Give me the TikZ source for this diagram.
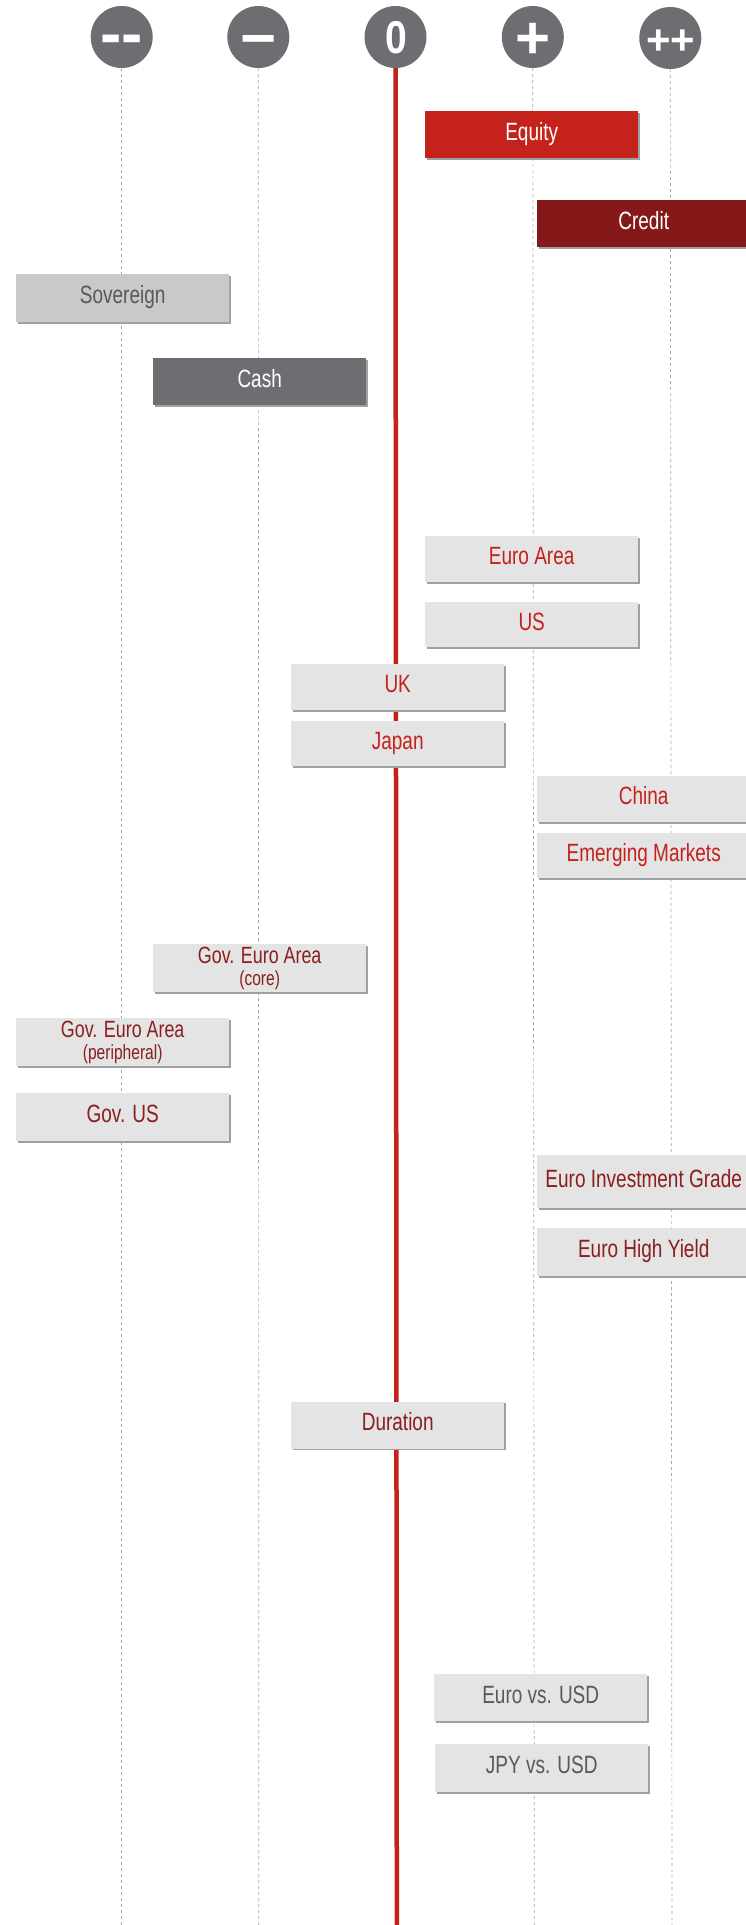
\documentclass[tikz,border=0pt]{standalone}
\usepackage{fontspec}
\setmainfont{Liberation Sans}[FakeStretch=0.76]
\newfontfamily\symfont{Liberation Sans}[Ligatures=NoCommon]
\newfontfamily\zerofont{Liberation Sans}[FakeStretch=0.85]
\usetikzlibrary{shadows,calc}
\definecolor{circ}{HTML}{6D6E71}
\definecolor{eqred}{HTML}{C4221B}
\definecolor{crred}{HTML}{85191A}
\definecolor{sovg}{HTML}{C9C9C9}
\definecolor{lbox}{HTML}{E4E4E4}
\definecolor{dgtxt}{HTML}{58595B}
\definecolor{drtxt}{HTML}{8B1E1E}
\definecolor{shad}{HTML}{A0A0A0}
\definecolor{dashcol}{HTML}{A8A8A8}
\tikzset{
  sym/.style={circle, fill=circ, minimum size=62pt, inner sep=0pt},
  symtxt/.style={text=white, anchor=base, inner sep=0pt},
  vline/.style={draw=dashcol, line width=0.7pt, dash pattern=on 3pt off 3pt},
  redline/.style={draw=eqred, line width=4.5pt},
  boxbase/.style={rectangle, anchor=north west, minimum width=213pt, minimum height=47pt, inner sep=0pt,
    drop shadow={shadow xshift=1.6pt, shadow yshift=-1.6pt, fill=shad, opacity=1}},
  box/.style={boxbase, font=\fontsize{25}{28}\selectfont, text height=18pt, text depth=7pt},
  lightred/.style={box, fill=lbox, text=eqred},
  lightdark/.style={box, fill=lbox, text=drtxt},
  lightgray/.style={box, fill=lbox, text=dgtxt},
  twoline/.style={boxbase, fill=lbox, text=drtxt, align=center, font=\fontsize{23.5}{22}\selectfont}
}
\begin{document}
\begin{tikzpicture}[x=1pt,y=-1pt]
\useasboundingbox[fill=white] (0,0) rectangle (745,1925);
% column heads
\node[sym] (c1) at (121.7,37) {};
\node[sym] (c2) at (258.3,37) {};
\node[sym] (c3) at (395.5,37) {};
\node[sym] (c4) at (532.8,37) {};
\node[sym] (c5) at (670.3,38) {};
\coordinate (b1) at (121.7,1925);
\coordinate (b2) at (258.8,1925);
\coordinate (b3) at (396.8,1925);
\coordinate (b4) at (534.3,1925);
\coordinate (b5) at (672,1925);
\draw[vline] (c1.south) -- (b1);
\draw[vline] (c2.south) -- (b2);
\draw[vline] (c4.south) -- (b4);
\draw[vline] (c5.south) -- (b5);
\draw[redline] (c3.south) -- (b3);
% symbols
\node[symtxt, font=\symfont\bfseries\fontsize{64}{64}\selectfont] (s1) at (121.7,55.5) {-{}-};
\node[symtxt, font=\symfont\bfseries\fontsize{62}{62}\selectfont] (s2) at (258.3,59) {−};
\node[symtxt, font=\zerofont\bfseries\fontsize{46}{46}\selectfont] (s3) at (396,53) {0};
\node[symtxt, font=\symfont\bfseries\fontsize{60}{60}\selectfont] (s4) at (532.8,58) {+};
\node[symtxt, font=\symfont\bfseries\fontsize{42}{42}\selectfont] (s5) at (670.8,54) {++};
% asset classes
\node[box, fill=eqred, text=white] (eq) at (425,111) {Equity};
\node[box, fill=crred, text=white] (cr) at (537,200) {Credit};
\node[box, fill=sovg, text=dgtxt, minimum height=48pt] (sov) at (16,274) {Sovereign};
\node[box, fill=circ, text=white] (cash) at (153,358) {Cash};
% equity regions
\node[lightred, minimum height=46pt] (ea) at (425,536) {Euro Area};
\node[lightred, minimum height=45pt] (us) at (425,602) {US};
\node[lightred, minimum height=46pt] (uk) at (291,664) {UK};
\node[lightred, minimum height=45pt] (jp) at (291,721) {Japan};
\node[lightred, minimum height=46pt] (cn) at (537,776) {China};
\node[lightred, minimum height=45pt] (em) at (537,833) {Emerging Markets};
% fixed income
\node[twoline, minimum height=48pt] (gcore) at (153,944) {Gov. Euro Area\\{\fontsize{20.5}{22}\selectfont (core)}};
\node[twoline, minimum height=48pt] (gper) at (16,1018) {Gov. Euro Area\\{\fontsize{20.5}{22}\selectfont (peripheral)}};
\node[lightdark, minimum height=48pt] (gus) at (16,1093) {Gov. US};
\node[lightdark, minimum height=53pt] (eig) at (537,1155) {Euro Investment Grade};
\node[lightdark, minimum height=48pt] (ehy) at (537,1228) {Euro High Yield};
\node[lightdark, minimum height=47pt] (dur) at (291,1401.5) {Duration};
% currencies
\node[lightgray, minimum height=47pt] (evu) at (434,1674) {Euro vs. USD};
\node[lightgray, minimum height=48pt] (jvu) at (435,1744) {JPY vs. USD};
\end{tikzpicture}
\end{document}
